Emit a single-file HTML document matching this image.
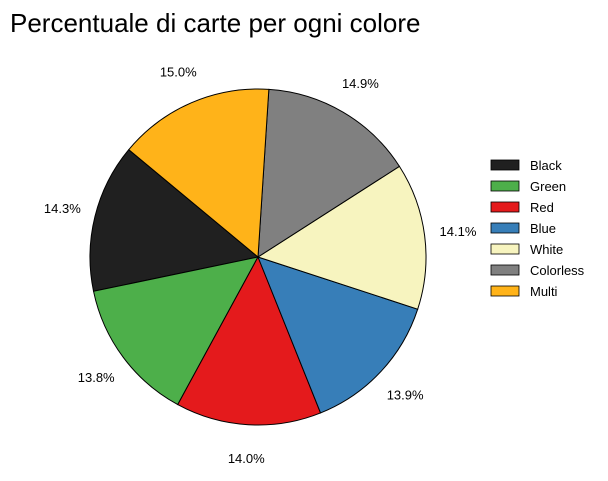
<!DOCTYPE html>
<html><head><meta charset="utf-8"><style>
body{margin:0;background:#fff;}
svg{font-family:"Liberation Sans","DejaVu Sans",sans-serif;}
</style></head><body>
<svg id="chart" width="608" height="476" xmlns="http://www.w3.org/2000/svg">
<rect width="608" height="476" fill="#fff"/>
<text x="10" y="32" font-size="26" fill="#000">Percentuale di carte per ogni colore</text>
<g id="slices"></g>
<g id="labels"></g>
<g id="legend"></g>
</svg>
<script>
const categories = ["Black","Green","Red","Blue","White","Colorless","Multi"];
const values = [14.3,13.8,14.0,13.9,14.1,14.9,15.0];
const colors = ["#202020","#4daf4a","#e41a1c","#377eb8","#f7f4bf","#808080","#ffb319"];
const NS="http://www.w3.org/2000/svg";
const cx=258, cy=257, r=168, startAngle=140.3;
const total=values.reduce((a,b)=>a+b,0);
function pt(angDeg, rad){const a=angDeg*Math.PI/180;return [cx+rad*Math.cos(a), cy-rad*Math.sin(a)];}
let ang=startAngle;
const sg=document.getElementById('slices'), lg=document.getElementById('labels'), leg=document.getElementById('legend');
values.forEach((v,i)=>{
  const sweep=v/total*360;
  const a0=ang, a1=ang+sweep;
  const p0=pt(a0,r), p1=pt(a1,r);
  const path=document.createElementNS(NS,'path');
  path.setAttribute('d',`M${cx},${cy} L${p0[0]},${p0[1]} A${r},${r} 0 ${sweep>180?1:0} 0 ${p1[0]},${p1[1]} Z`);
  path.setAttribute('fill',colors[i]);path.setAttribute('stroke','#000');path.setAttribute('stroke-width','1');
  
  
  sg.appendChild(path);
  const mid=(a0+a1)/2, lp=pt(mid,r*1.2);
  const t=document.createElementNS(NS,'text');
  t.setAttribute('x',lp[0]);t.setAttribute('y',lp[1]+4.5);t.setAttribute('font-size','13');t.setAttribute('text-anchor','middle');
  t.textContent=v.toFixed(1)+'%';
  
  
  lg.appendChild(t);
  ang=a1;
  const y=160+i*21;
  const rc=document.createElementNS(NS,'rect');
  rc.setAttribute('x',491);rc.setAttribute('y',y);rc.setAttribute('width',28);rc.setAttribute('height',10);
  rc.setAttribute('fill',colors[i]);rc.setAttribute('stroke','#000');rc.setAttribute('stroke-width','0.8');
  
  
  leg.appendChild(rc);
  const lt=document.createElementNS(NS,'text');
  lt.setAttribute('x',530);lt.setAttribute('y',y+10);lt.setAttribute('font-size','13');lt.textContent=categories[i];
  
  
  leg.appendChild(lt);
});
</script>
</body></html>
